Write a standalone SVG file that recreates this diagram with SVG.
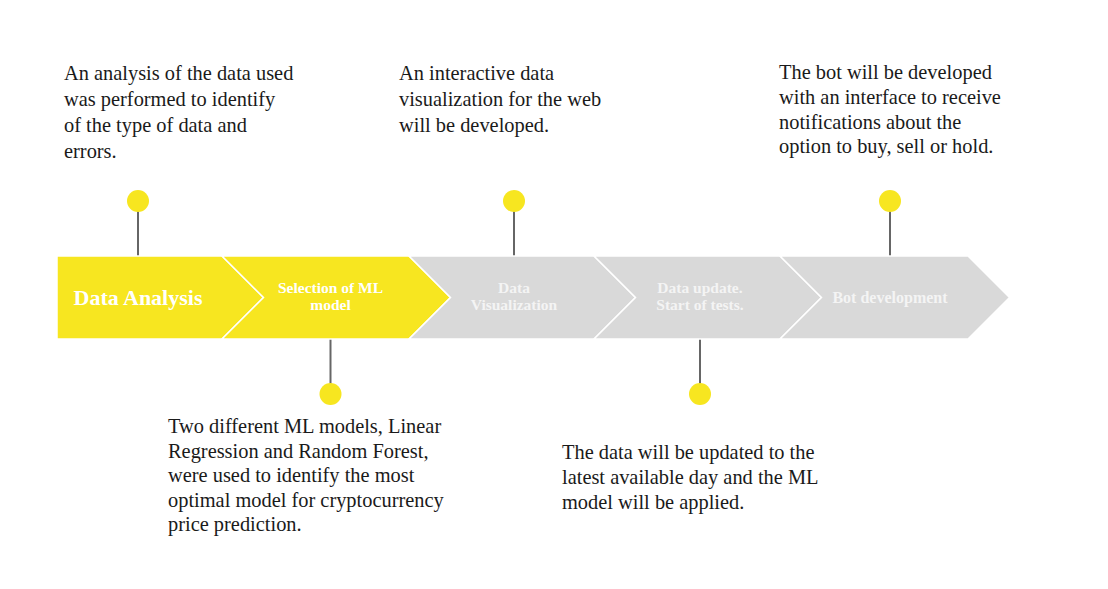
<svg xmlns="http://www.w3.org/2000/svg" width="1108" height="589" viewBox="0 0 1108 589">
  <style>
    .stage { stroke: #ffffff; stroke-width: 1.5; stroke-linejoin: miter; }
    .done { fill: #F7E620; }
    .todo { fill: #D9D9D9; }
    .label { font-family: "Liberation Serif", "DejaVu Serif", serif; font-weight: bold; fill: #ffffff; text-anchor: middle; }
    .label.todo-text { fill: #F4F4F4; }
    .note { font-family: "Liberation Serif", "DejaVu Serif", serif; font-size: 20.4px; fill: #1a1a1a; }
    .stem { stroke: #666666; stroke-width: 2; fill: none; }
    .dot { fill: #F7E620; }
  </style>
  <rect width="1108" height="589" fill="#ffffff"/>

  <!-- connectors: stems from dots to the chevron band -->
  <g id="connectors">
    <line class="stem" x1="138" y1="211" x2="138" y2="257"/>
    <line class="stem" x1="514" y1="211" x2="514" y2="257"/>
    <line class="stem" x1="890" y1="211" x2="890" y2="257"/>
    <line class="stem" x1="330.5" y1="338" x2="330.5" y2="384"/>
    <line class="stem" x1="700" y1="338" x2="700" y2="384"/>
  </g>

  <g id="stage-data-analysis">
    <polygon class="stage done" points="57,256 222,256 263.5,297.5 222,339 57,339"/>
    <text class="label" x="138" y="305" font-size="22">Data Analysis</text>
  </g>

  <g id="stage-ml-model">
    <polygon class="stage done" points="222,256 409,256 450.5,297.5 409,339 222,339 263.5,297.5"/>
    <text class="label" font-size="15.5"><tspan x="330.5" y="292.5">Selection of ML</tspan><tspan x="330.5" y="310">model</tspan></text>
  </g>

  <g id="stage-visualization">
    <polygon class="stage todo" points="409,256 594,256 635.5,297.5 594,339 409,339 450.5,297.5"/>
    <text class="label todo-text" font-size="15.5"><tspan x="514" y="292.5">Data</tspan><tspan x="514" y="310">Visualization</tspan></text>
  </g>

  <g id="stage-data-update">
    <polygon class="stage todo" points="594,256 780,256 821.5,297.5 780,339 594,339 635.5,297.5"/>
    <text class="label todo-text" font-size="15.5"><tspan x="700" y="292.5">Data update.</tspan><tspan x="700" y="310">Start of tests.</tspan></text>
  </g>

  <g id="stage-bot">
    <polygon class="stage todo" points="780,256 968,256 1009.5,297.5 968,339 780,339 821.5,297.5"/>
    <text class="label todo-text" font-size="16"><tspan x="890" y="303">Bot development</tspan></text>
  </g>

  <g id="note-data-analysis">
    <circle class="dot" cx="138" cy="201" r="11"/>
    <text class="note"><tspan x="64" y="80">An analysis of the data used</tspan><tspan x="64" y="106">was performed to identify</tspan><tspan x="64" y="132">of the type of data and</tspan><tspan x="64" y="158">errors.</tspan></text>
  </g>

  <g id="note-ml-model">
    <circle class="dot" cx="330.5" cy="394" r="11"/>
    <text class="note"><tspan x="168" y="433">Two different ML models, Linear</tspan><tspan x="168" y="457.5">Regression and Random Forest,</tspan><tspan x="168" y="482">were used to identify the most</tspan><tspan x="168" y="506.5">optimal model for cryptocurrency</tspan><tspan x="168" y="531">price prediction.</tspan></text>
  </g>

  <g id="note-visualization">
    <circle class="dot" cx="514" cy="201" r="11"/>
    <text class="note"><tspan x="399" y="80">An interactive data</tspan><tspan x="399" y="106">visualization for the web</tspan><tspan x="399" y="132">will be developed.</tspan></text>
  </g>

  <g id="note-data-update">
    <circle class="dot" cx="700" cy="394" r="11"/>
    <text class="note"><tspan x="562" y="459">The data will be updated to the</tspan><tspan x="562" y="484">latest available day and the ML</tspan><tspan x="562" y="509">model will be applied.</tspan></text>
  </g>

  <g id="note-bot">
    <circle class="dot" cx="890" cy="201" r="11"/>
    <text class="note"><tspan x="779" y="79">The bot will be developed</tspan><tspan x="779" y="104">with an interface to receive</tspan><tspan x="779" y="128.5">notifications about the</tspan><tspan x="779" y="153">option to buy, sell or hold.</tspan></text>
  </g>
</svg>
